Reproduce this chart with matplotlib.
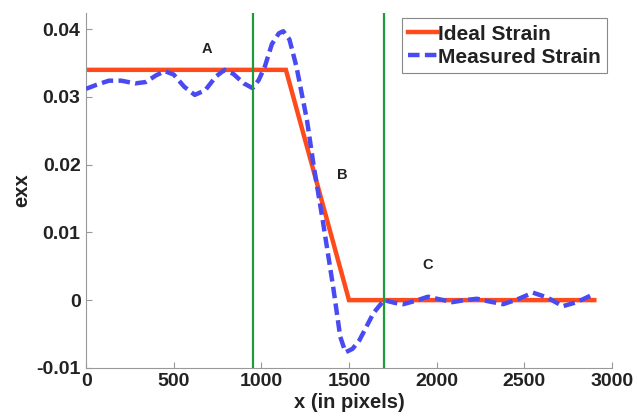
import numpy as np
import matplotlib
matplotlib.use("Agg")
import matplotlib.pyplot as plt

# ideal strain profile (piecewise linear)
ideal_x = [0, 1140, 1500, 2900]
ideal_y = [0.034, 0.034, 0.0, 0.0]

# measured strain along x
meas_x = [0, 60, 130, 200, 280, 340, 400, 450, 500, 560, 620, 680, 740, 790,
          840, 900, 950, 985, 1020, 1060, 1100, 1125, 1160, 1200, 1260, 1300,
          1350, 1410, 1450, 1480, 1520, 1560, 1640, 1700, 1760, 1810, 1880,
          1950, 2020, 2090, 2160, 2230, 2300, 2380, 2460, 2550, 2630, 2720,
          2800, 2890]
meas_y = [0.0312, 0.0318, 0.0324, 0.0324, 0.0320, 0.0322, 0.0332, 0.0338,
          0.0333, 0.0315, 0.0303, 0.0310, 0.0330, 0.0340, 0.0334, 0.0320,
          0.0313, 0.0325, 0.0345, 0.0378, 0.0394, 0.0397, 0.0385, 0.0345,
          0.0266, 0.0196, 0.0118, 0.0019, -0.0054, -0.0077, -0.0072, -0.0059,
          -0.0019, 0.0000, -0.0004, -0.0006, -0.0001, 0.0005, 0.0001, -0.0003,
          0.0000, 0.0002, -0.0002, -0.0006, 0.0001, 0.0011, 0.0004, -0.0009,
          -0.0003, 0.0008]

# region boundaries and labels
bounds = [950, 1700]
region_names = ["A", "B", "C"]
region_x = [690, 1460, 1950]
region_y = [0.0371, 0.0185, 0.0052]

xticks = [0, 500, 1000, 1500, 2000, 2500, 3000]
yticks = [-0.01, 0, 0.01, 0.02, 0.03, 0.04]
ytick_labels = ["-0.01", "0", "0.01", "0.02", "0.03", "0.04"]

plt.rcParams['font.family'] = ['Liberation Sans', 'DejaVu Sans']
plt.rcParams['font.weight'] = 'bold'

fig = plt.figure(figsize=(6.38, 4.18), dpi=100)
ax = fig.add_axes([0.135, 0.12, 0.824, 0.849])

ax.plot(ideal_x, ideal_y, color='#ff4a1c', linewidth=3.2, label='Ideal Strain',
        solid_joinstyle='miter', zorder=2)
ax.plot(meas_x, meas_y, color='#4a4af2', linewidth=3.2, dashes=(2.6, 1.2),
        label='Measured Strain', zorder=3)
for b in bounds:
    ax.axvline(b, color='#1f9a3c', linewidth=1.6, zorder=4)

for name, tx, ty in zip(region_names, region_x, region_y):
    ax.text(tx, ty, name, fontsize=10.5, fontweight='bold', ha='center', va='center',
            color='#222222')

ax.set_xlim(0, 3000)
ax.set_ylim(-0.01, 0.0424)
ax.set_xticks(xticks)
ax.set_yticks(yticks)
ax.set_yticklabels(ytick_labels)
ax.tick_params(direction='in', length=4, colors='#999999', labelcolor='#222222',
               labelsize=14, width=0.8, pad=4)
for lab in ax.get_xticklabels() + ax.get_yticklabels():
    lab.set_fontweight('bold')

ax.spines['top'].set_visible(False)
ax.spines['right'].set_visible(False)
ax.spines['left'].set_color('#999999')
ax.spines['bottom'].set_color('#999999')

ax.set_xlabel('x (in pixels)', fontsize=14.5, fontweight='bold', labelpad=2,
              color='#222222')
ax.set_ylabel('exx', fontsize=14.5, fontweight='bold', labelpad=3.5,
              color='#222222')

leg = ax.legend(loc='upper right', fontsize=15, handlelength=1.35,
                handletextpad=0.05, borderpad=0.3, labelspacing=0.2,
                fancybox=False, framealpha=1, edgecolor='#888888',
                bbox_to_anchor=(0.99, 0.985), borderaxespad=0.0)
leg.get_frame().set_linewidth(0.8)
for t in leg.get_texts():
    t.set_fontweight('bold')
    t.set_color('#222222')

fig.savefig('out.png', dpi=100)
